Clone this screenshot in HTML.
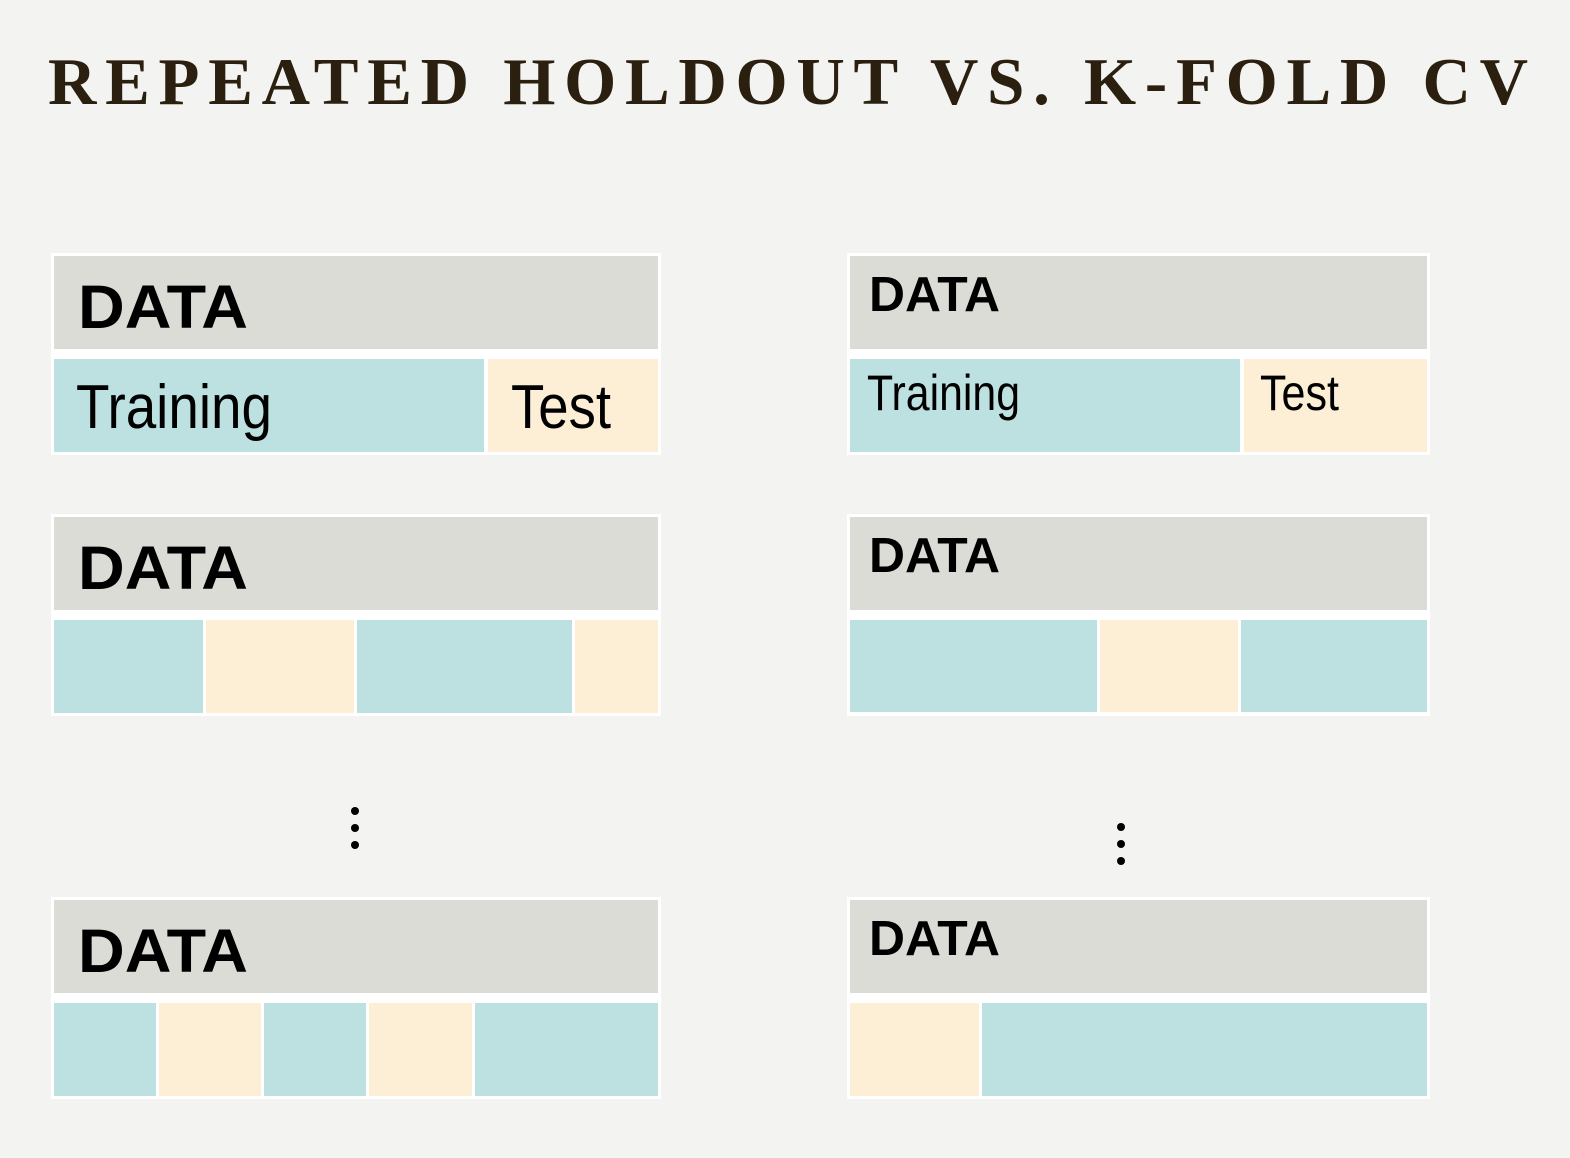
<!DOCTYPE html>
<html><head><style>html,body{margin:0;padding:0;background:#f3f3f1;}</style></head>
<body>
<svg width="1570" height="1158" xmlns="http://www.w3.org/2000/svg" style="display:block">
<rect width="1570" height="1158" fill="#f3f3f1"/>
<text x="48" y="104" font-family="Liberation Serif, serif" font-weight="bold" font-size="67" fill="#2b2010" textLength="1480" lengthAdjust="spacing">REPEATED HOLDOUT VS. K-FOLD CV</text>
<g font-family="Liberation Sans, sans-serif" fill="#000">
<rect x="51" y="253" width="610" height="202" fill="#fff"/>
<rect x="54" y="256" width="604" height="93" fill="#dcdcd7"/>
<rect x="54" y="359" width="430" height="93" fill="#bde0e0"/>
<rect x="488" y="359" width="170" height="93" fill="#fcefd6"/>
<text x="78" y="328" font-size="61" font-weight="bold" textLength="170" lengthAdjust="spacingAndGlyphs">DATA</text>
<text x="76" y="428" font-size="62" textLength="196" lengthAdjust="spacingAndGlyphs">Training</text>
<text x="511" y="428" font-size="62" textLength="100" lengthAdjust="spacingAndGlyphs">Test</text>

<rect x="51" y="514" width="610" height="202" fill="#fff"/>
<rect x="54" y="517" width="604" height="93" fill="#dcdcd7"/>
<text x="78" y="589" font-size="61" font-weight="bold" textLength="170" lengthAdjust="spacingAndGlyphs">DATA</text>
<rect x="54" y="620" width="149" height="93" fill="#bde0e0"/>
<rect x="206" y="620" width="148" height="93" fill="#fcefd6"/>
<rect x="357" y="620" width="215" height="93" fill="#bde0e0"/>
<rect x="575" y="620" width="83" height="93" fill="#fcefd6"/>

<rect x="51" y="897" width="610" height="202" fill="#fff"/>
<rect x="54" y="900" width="604" height="93" fill="#dcdcd7"/>
<text x="78" y="972" font-size="61" font-weight="bold" textLength="170" lengthAdjust="spacingAndGlyphs">DATA</text>
<rect x="54" y="1003" width="102" height="93" fill="#bde0e0"/>
<rect x="159" y="1003" width="102" height="93" fill="#fcefd6"/>
<rect x="264" y="1003" width="102" height="93" fill="#bde0e0"/>
<rect x="369" y="1003" width="103" height="93" fill="#fcefd6"/>
<rect x="475" y="1003" width="183" height="93" fill="#bde0e0"/>

<rect x="847" y="253" width="583" height="202" fill="#fff"/>
<rect x="850" y="256" width="577" height="93" fill="#dcdcd7"/>
<rect x="850" y="359" width="390" height="93" fill="#bde0e0"/>
<rect x="1244" y="359" width="183" height="93" fill="#fcefd6"/>
<text x="869" y="311" font-size="49" font-weight="bold" textLength="131" lengthAdjust="spacingAndGlyphs">DATA</text>
<text x="867" y="410" font-size="50" textLength="153" lengthAdjust="spacingAndGlyphs">Training</text>
<text x="1260" y="410" font-size="50" textLength="79" lengthAdjust="spacingAndGlyphs">Test</text>

<rect x="847" y="514" width="583" height="202" fill="#fff"/>
<rect x="850" y="517" width="577" height="93" fill="#dcdcd7"/>
<text x="869" y="572" font-size="49" font-weight="bold" textLength="131" lengthAdjust="spacingAndGlyphs">DATA</text>
<rect x="850" y="620" width="247" height="92" fill="#bde0e0"/>
<rect x="1100" y="620" width="138" height="92" fill="#fcefd6"/>
<rect x="1241" y="620" width="186" height="92" fill="#bde0e0"/>

<rect x="847" y="897" width="583" height="202" fill="#fff"/>
<rect x="850" y="900" width="577" height="93" fill="#dcdcd7"/>
<text x="869" y="955" font-size="49" font-weight="bold" textLength="131" lengthAdjust="spacingAndGlyphs">DATA</text>
<rect x="850" y="1003" width="129" height="93" fill="#fcefd6"/>
<rect x="982" y="1003" width="445" height="93" fill="#bde0e0"/>

<circle cx="355" cy="811" r="4"/><circle cx="355" cy="828" r="4"/><circle cx="355" cy="845" r="4"/>
<circle cx="1121" cy="827" r="4"/><circle cx="1121" cy="844" r="4"/><circle cx="1121" cy="861" r="4"/>
</g>
</svg>
</body></html>
